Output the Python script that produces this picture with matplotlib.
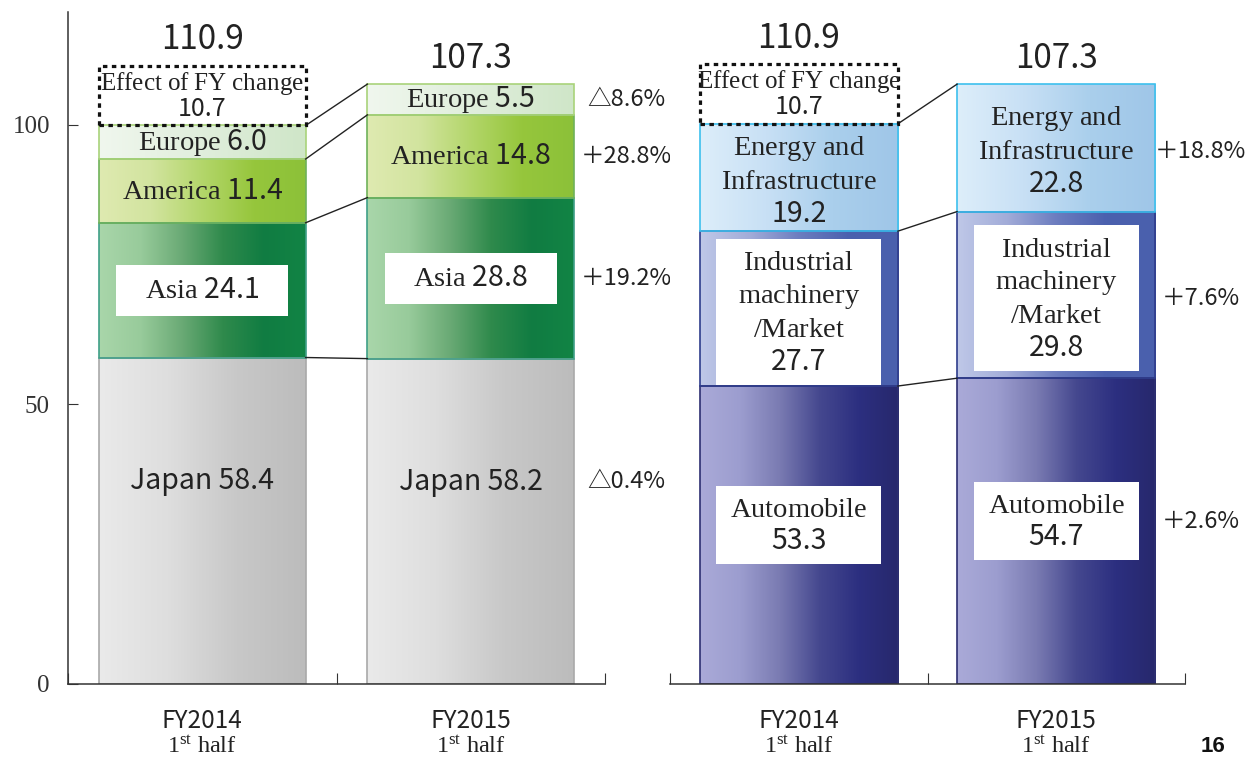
import numpy as np
import matplotlib.pyplot as plt
from matplotlib.colors import LinearSegmentedColormap
from matplotlib.patches import Rectangle

# serif words inside $\mathrm{...}$, numbers in the gothic sans
plt.rcParams['mathtext.fontset'] = 'custom'
plt.rcParams['mathtext.rm'] = 'Liberation Serif'
plt.rcParams['mathtext.it'] = 'Liberation Serif:italic'
plt.rcParams['mathtext.bf'] = 'Liberation Serif:bold'

SANS = ['Noto Sans CJK JP', 'DejaVu Sans']
SERIF = 'Liberation Serif'

# ---- data ----
periods = ['FY2014', 'FY2015']

regions = ['Japan', 'Asia', 'America', 'Europe']
region_2014 = [58.4, 24.1, 11.4, 6.0]
region_2015 = [58.2, 28.8, 14.8, 5.5]
region_change = ['△0.4%', '＋19.2%', '＋28.8%', '△8.6%']

markets = ['Automobile', 'Industrial\nmachinery\n/Market', 'Energy and\nInfrastructure']
market_2014 = [53.3, 27.7, 19.2]
market_2015 = [54.7, 29.8, 22.8]
market_change = ['＋2.6%', '＋7.6%', '＋18.8%']

fy_effect = 10.7
totals = [110.9, 107.3]

# ---- styles ----
region_cols = [
    (['#eaeaea', '#dedede', '#c8c8c8', '#bcbcbc'], '#a9a9a9'),
    (['#a9d6aa', '#98cb9b', '#6aaa75', '#2f8a4c', '#107c42', '#128445'], '#3f9f88'),
    (['#dfeab1', '#d2e49f', '#b3d66a', '#96c63c', '#8cc139'], '#6fb25a'),
    (['#f0f7ee', '#e0eedc', '#cfe6c8'], '#a9d37a'),
]
market_cols = [
    (['#aaaad8', '#9c9dcf', '#7a7bb2', '#45488f', '#2c2f80', '#27286c'], '#2d2f72'),
    (['#bfc8e8', '#a2acd8', '#6c7dbf', '#4b60ae', '#4a61ad'], '#2f3d8c'),
    (['#ddeefa', '#c8e0f5', '#aacfec', '#9fc6e8'], '#3dc0ee'),
]
W = 0.77
TXT = '#222222'


def serif(s):
    return '$\\mathrm{' + s.replace(' ', '\\ ') + '}$'


def grad_fill(ax, x0, x1, y0, y1, colors):
    cmap = LinearSegmentedColormap.from_list('g', colors)
    g = np.linspace(0, 1, 256).reshape(1, -1)
    ax.imshow(g, extent=(x0, x1, y0, y1), cmap=cmap, aspect='auto',
              interpolation='bilinear', zorder=1)


def setup_axis(ax, left_spine):
    ax.set_xlim(-0.5, 1.5)
    ax.set_ylim(0, 120.2)
    for s in ['top', 'right']:
        ax.spines[s].set_visible(False)
    ax.spines['left'].set_visible(left_spine)
    for s in ['left', 'bottom']:
        ax.spines[s].set_color('#333333')
        ax.spines[s].set_linewidth(1.1)
    ax.set_xticks([-0.5, 0.5, 1.5])
    ax.set_xticklabels([])
    ax.tick_params(axis='x', which='major', direction='in', length=8, color='#333333')
    ax.set_xticks([0, 1], minor=True)
    ax.set_xticklabels([p + '\n' + serif('1^{st} half') for p in periods],
                       minor=True, fontsize=17.5, family=SANS, linespacing=0.98, color=TXT)
    ax.tick_params(axis='x', which='minor', length=0, pad=17)
    if left_spine:
        ax.set_yticks([0, 50, 100])
        ax.set_yticklabels(['0', '50', '100'], family=SERIF, fontsize=18, color='#333333')
        ax.tick_params(axis='y', direction='in', length=7, pad=13, color='#333333')
    else:
        ax.set_yticks([])


def draw_panel(ax, names, v14, v15, cols, changes, boxes, lifts, change_x, fmt_label):
    tops = []
    for i, vals in enumerate([v14, v15]):
        cum = np.concatenate([[0], np.cumsum(vals)])
        tops.append(cum[1:])
        for k, v in enumerate(vals):
            x0, x1 = i - W / 2, i + W / 2
            grad_fill(ax, x0, x1, cum[k], cum[k + 1], cols[k][0])
            ax.bar(i, v, W, bottom=cum[k], fill=False, edgecolor=cols[k][1], lw=1.2, zorder=2)
            ly = (cum[k] + cum[k + 1]) / 2 + lifts.get(k, 0)
            if k in boxes:
                bw = W * 0.83
                ax.add_patch(Rectangle((i - bw / 2, ly - boxes[k] / 2), bw, boxes[k],
                                       fc='white', ec='none', zorder=3))
            ax.text(i, ly, fmt_label(names[k], v), ha='center', va='center',
                    fontsize=20.5, family=SANS, color=TXT, linespacing=1.12, zorder=4)
            if i == 1:
                ax.text(change_x, ly, changes[k], ha='center', va='center',
                        fontsize=17, family=SANS, color=TXT, zorder=4)
    # connectors between the two periods
    for t14, t15 in zip(tops[0], tops[1]):
        ax.plot([W / 2, 1 - W / 2], [t14, t15], color=TXT, lw=1.0, zorder=2)
    # effect of fiscal-year change on FY2014
    base = tops[0][-1]
    ax.add_patch(Rectangle((-W / 2, base), W, fy_effect, fill=False, ec='#111111',
                           lw=2.3, ls=(0, (1.4, 1.4)), zorder=5))
    ax.text(0, base + fy_effect / 2, serif('Effect of FY change') + '\n' + f'{fy_effect:.1f}',
            ha='center', va='center', fontsize=18, family=SANS, color=TXT,
            linespacing=0.95, zorder=6)
    # period totals
    heights = [base + fy_effect, tops[1][-1]]
    for i, (h, tot) in enumerate(zip(heights, totals)):
        ax.text(i, h + 4.6, f'{tot:.1f}', ha='center', va='center',
                fontsize=24, family=SANS, color=TXT)


def region_label(name, v):
    if name == 'Japan':
        return f'{name} {v:.1f}'
    return serif(name) + f' {v:.1f}'


def market_label(name, v):
    return '\n'.join(serif(l) for l in name.split('\n')) + f'\n{v:.1f}'


fig = plt.figure(figsize=(12.47, 7.58), dpi=100)
ax1 = fig.add_axes([68 / 1247, 1 - 684 / 758, 537 / 1247, 672 / 758])
ax2 = fig.add_axes([670 / 1247, 1 - 684 / 758, 515 / 1247, 672 / 758])

draw_panel(ax1, regions, region_2014, region_2015, region_cols, region_change,
           boxes={1: 9.1}, lifts={0: 7.1}, change_x=1.58, fmt_label=region_label)
draw_panel(ax2, markets, market_2014, market_2015, market_cols, market_change,
           boxes={0: 14.0, 1: 26.2}, lifts={0: 1.8, 1: -0.6, 2: -0.6},
           change_x=1.56, fmt_label=market_label)

setup_axis(ax1, True)
setup_axis(ax2, False)

fig.text(1213 / 1247, 1 - 746 / 758, '16', ha='center', va='center',
         fontsize=16, weight='bold', family='Liberation Sans', color='#111111')

fig.savefig('out.png', dpi=100)
